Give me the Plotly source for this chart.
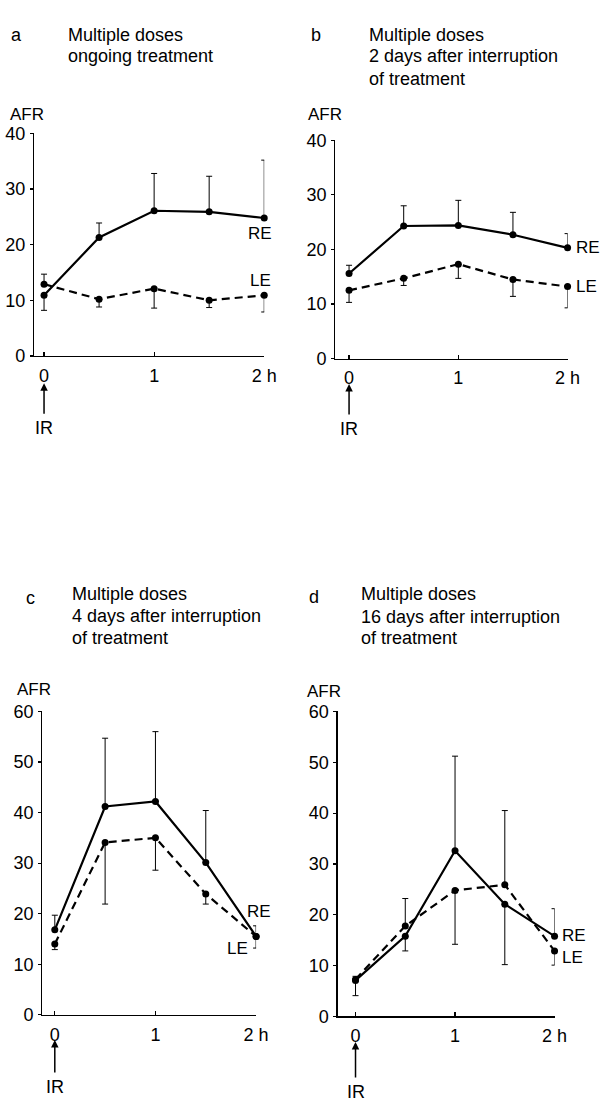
import plotly.graph_objects as go

W, H = 607, 1108
FONT = "Liberation Sans, Arial, sans-serif"

# ---------------- data ----------------
hours = [0, 0.5, 1, 1.5, 2]
x_tick_vals = [0, 1, 2]
x_tick_text = ["0", "1", "2 h"]

panel_letters = ["a", "b", "c", "d"]
panel_titles = [
    ["Multiple doses", "ongoing treatment"],
    ["Multiple doses", "2 days after interruption", "of treatment"],
    ["Multiple doses", "4 days after interruption", "of treatment"],
    ["Multiple doses", "16 days after interruption", "of treatment"],
]
y_ticks_ab = [0, 10, 20, 30, 40]
y_ticks_cd = [0, 10, 20, 30, 40, 50, 60]

# panel a
a_RE = [10.9, 21.3, 26.1, 25.9, 24.8]
a_RE_hi = [None, 23.9, 32.8, 32.3, 35.2]
a_RE_lo = [8.2, None, None, None, None]
a_LE = [12.9, 10.2, 12.1, 10.0, 10.9]
a_LE_hi = [14.7, None, None, None, None]
a_LE_lo = [None, 8.8, 8.6, 8.7, 7.9]

# panel b
b_RE = [15.6, 24.3, 24.4, 22.7, 20.3]
b_RE_hi = [17.1, 28.0, 29.0, 26.8, 22.9]
b_RE_lo = [None, None, None, None, None]
b_LE = [12.5, 14.7, 17.3, 14.5, 13.2]
b_LE_hi = [None, None, None, None, None]
b_LE_lo = [10.3, 13.4, 14.7, 11.4, 9.3]

# panel c
c_RE = [16.8, 41.2, 42.2, 30.1, 15.5]
c_RE_hi = [19.7, 54.7, 56.0, 40.4, 17.6]
c_RE_lo = [None, None, None, None, None]
c_LE = [14.0, 34.1, 35.0, 23.9, 15.5]
c_LE_hi = [None, None, None, None, None]
c_LE_lo = [12.9, 21.9, 28.6, 21.9, 13.2]

# panel d
d_RE = [7.1, 15.8, 32.6, 22.1, 15.8]
d_RE_hi = [None, None, 51.2, None, 21.2]
d_RE_lo = [4.1, 12.9, None, 10.2, None]
d_LE = [7.3, 17.8, 24.8, 25.9, 12.9]
d_LE_hi = [7.9, 23.2, None, 40.5, None]
d_LE_lo = [None, None, 14.2, None, 10.1]

# ---------------- layout (pixels) ----------------
panels = [
    dict(RE=a_RE, RE_hi=a_RE_hi, RE_lo=a_RE_lo, LE=a_LE, LE_hi=a_LE_hi, LE_lo=a_LE_lo,
         yticks=y_ticks_ab, ymax=40,
         ax_x=35, x0=45, x2=270, ytop=125.7, ybot=352.3,
         letter=(17, 25), title_x=67, title_y=[25, 47],
         afr=(28, 106), ir=(45, 380, 425),
         re_lab=(266, 228, "center"), le_lab=(266.7, 275.7, "center")),
    dict(RE=b_RE, RE_hi=b_RE_hi, RE_lo=b_RE_lo, LE=b_LE, LE_hi=b_LE_hi, LE_lo=b_LE_lo,
         yticks=y_ticks_ab, ymax=40,
         ax_x=342.7, x0=356.7, x2=580, ytop=132.7, ybot=355,
         letter=(323, 25), title_x=375, title_y=[25, 47, 70],
         afr=(332, 106), ir=(356.7, 381, 426),
         re_lab=(587, 242, "left"), le_lab=(587, 281.7, "left")),
    dict(RE=c_RE, RE_hi=c_RE_hi, RE_lo=c_RE_lo, LE=c_LE, LE_hi=c_LE_hi, LE_lo=c_LE_lo,
         yticks=y_ticks_cd, ymax=60,
         ax_x=43.3, x0=56, x2=261.7, ytop=714.3, ybot=1023.3,
         letter=(31, 599), title_x=72, title_y=[595, 617, 640],
         afr=(35, 692), ir=(56, 1049, 1096),
         re_lab=(265, 918, "center"), le_lab=(242.7, 956, "center")),
    dict(RE=d_RE, RE_hi=d_RE_hi, RE_lo=d_RE_lo, LE=d_LE, LE_hi=d_LE_hi, LE_lo=d_LE_lo,
         yticks=y_ticks_cd, ymax=60,
         ax_x=345, x0=363.3, x2=566.7, ytop=714.3, ybot=1025,
         letter=(321, 598), title_x=367, title_y=[595, 618, 640],
         afr=(331, 694), ir=(363.3, 1051, 1101),
         re_lab=(572, 943, "left"), le_lab=(572, 965, "left")),
]


def px_x(p):
    return p / W


def px_y(p):
    return 1 - p / H


def err_arrays(vals, hi, lo):
    plus = [(h - v) if h is not None else 0 for v, h in zip(vals, hi)]
    minus = [(v - l) if l is not None else 0 for v, l in zip(vals, lo)]
    return plus, minus


def txt(text, x, y, size=18, xanchor="center"):
    return dict(text=text, x=px_x(x), y=px_y(y), xref="paper", yref="paper",
                showarrow=False, xanchor=xanchor, yanchor="middle",
                font=dict(family=FONT, size=size, color="black"))


fig = go.Figure()
annotations = []

for i, p in enumerate(panels):
    n = i + 1
    xa = "x" if n == 1 else f"x{n}"
    ya = "y" if n == 1 else f"y{n}"
    pxh = (p["x2"] - p["x0"]) / 2.0
    xmin = -(p["x0"] - p["ax_x"]) / pxh

    for key, dash in (("RE", "solid"), ("LE", "8px,5px")):
        vals = p[key]
        plus, minus = err_arrays(vals, p[key + "_hi"], p[key + "_lo"])
        fig.add_trace(go.Scatter(
            x=hours, y=vals, mode="lines+markers", xaxis=xa, yaxis=ya,
            line=dict(color="black", width=2.2, dash=dash),
            marker=dict(color="black", size=7),
            error_y=dict(type="data", symmetric=False, array=plus, arrayminus=minus,
                         color="black", thickness=1, width=3),
            cliponaxis=False, showlegend=False, hoverinfo="skip",
        ))

    fig.update_layout(**{
        ("xaxis" if n == 1 else f"xaxis{n}"): dict(
            domain=[px_x(p["ax_x"]), px_x(p["x2"])], range=[xmin, 2.0],
            anchor=ya, showgrid=False, zeroline=False, showline=True,
            linecolor="black", linewidth=1.3, ticks="inside", ticklen=4,
            tickwidth=1.2, tickcolor="black", tickvals=x_tick_vals,
            ticktext=x_tick_text, ticklabelstandoff=3,
            tickfont=dict(family=FONT, size=18, color="black")),
        ("yaxis" if n == 1 else f"yaxis{n}"): dict(
            domain=[px_y(p["ybot"]), px_y(p["ytop"])], range=[0, p["ymax"]],
            anchor=xa, showgrid=False, zeroline=False, showline=True,
            linecolor="black", linewidth=1.3, ticks="outside", ticklen=3,
            tickwidth=1.2, tickcolor="black", tickvals=p["yticks"],
            ticklabelstandoff=1,
            tickfont=dict(family=FONT, size=18, color="black")),
    })

    annotations.append(txt(panel_letters[i], *p["letter"]))
    for line, ly in zip(panel_titles[i], p["title_y"]):
        annotations.append(txt(line, p["title_x"], ly, xanchor="left"))
    annotations.append(txt("AFR", *p["afr"], size=17))
    ix, itip, itext = p["ir"]
    annotations.append(dict(
        text="IR", x=px_x(ix), y=px_y(itip), xref="paper", yref="paper",
        showarrow=True, ax=0, ay=itext - itip,
        arrowhead=2, arrowsize=1, arrowwidth=1.5, arrowcolor="black",
        standoff=0, startstandoff=3,
        font=dict(family=FONT, size=18, color="black")))
    for lab, key in (("RE", "re_lab"), ("LE", "le_lab")):
        lx, ly, anc = p[key]
        annotations.append(txt(lab, lx, ly, size=17, xanchor=anc))

fig.update_layout(
    width=W, height=H, margin=dict(l=0, r=0, t=0, b=0),
    paper_bgcolor="white", plot_bgcolor="white",
    annotations=annotations, showlegend=False,
)

fig.write_html(
    "out.html",
    config={"displayModeBar": False, "staticPlot": True},
    post_script="document.body.style.margin='0';document.body.style.overflow='hidden';",
)
